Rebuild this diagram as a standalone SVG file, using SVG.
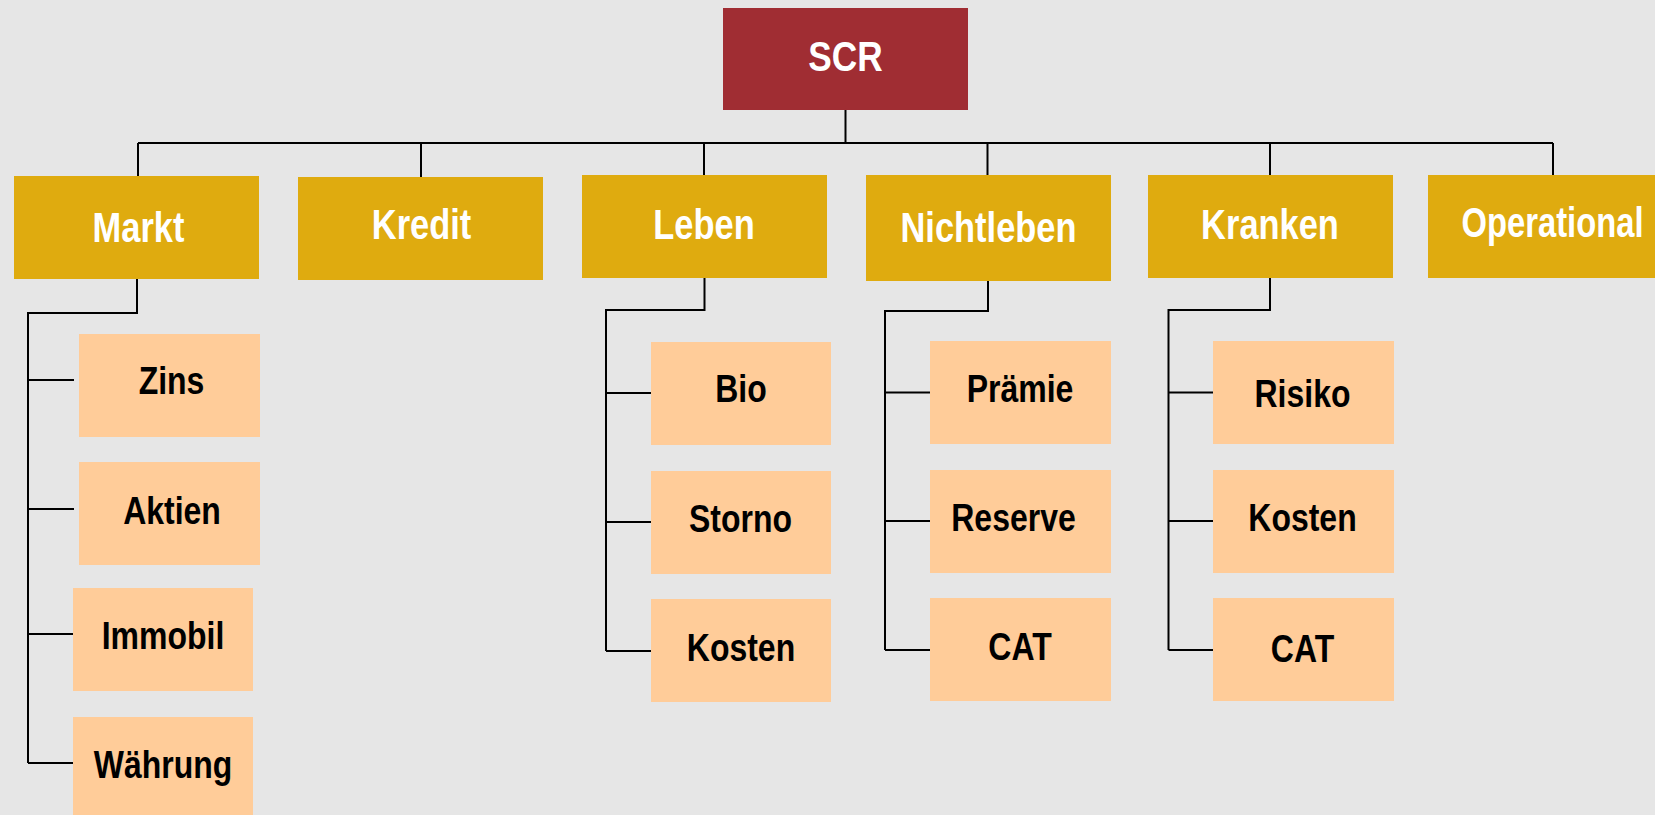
<svg xmlns="http://www.w3.org/2000/svg" width="1655" height="815" viewBox="0 0 1655 815">
<style>
.bg{fill:#E6E6E6}
.root{fill:#A02D33}
.top{fill:#DFAB0F}
.sub{fill:#FFCC99}
.c{fill:none;stroke:#000;stroke-width:2}
text{font-family:"Liberation Sans",Arial,sans-serif;font-weight:bold;text-anchor:middle}
.tw{fill:#fff;font-size:42px}
.tb{fill:#000;font-size:39px}
</style>
<rect class="bg" x="0" y="0" width="1655" height="815"/>
<g id="connectors">
<path class="c" d="M845.5,110 V143 M138,143 H1553 M138,143 V176 M421,143 V177 M704,143 V175 M987.5,143 V175 M1270,143 V175 M1553,143 V175"/>
<path class="c" d="M137,279 V313 H28 V763 M28,380 H74 M28,509 H74 M28,634 H74 M28,763 H74"/>
<path class="c" d="M704.5,278 V310 H606 V651 M606,393 H651 M606,522 H651 M606,651 H651"/>
<path class="c" d="M988,281 V311 H885 V650 M885,392.5 H930 M885,521 H930 M885,650 H930"/>
<path class="c" d="M1270,278 V310 H1168.5 V650 M1168.5,392.5 H1213 M1168.5,521 H1213 M1168.5,650 H1213"/>
</g>
<g id="scr"><rect class="root" x="723" y="8" width="245" height="102"/><text class="tw" transform="translate(845.5,70.5) scale(0.82,1)" style="font-size:43px">SCR</text></g>
<g id="markt"><rect class="top" x="14" y="176" width="245" height="103"/><text class="tw" transform="translate(138.5,241.5) scale(0.82,1)">Markt</text></g>
<g id="kredit"><rect class="top" x="298" y="177" width="245" height="103"/><text class="tw" transform="translate(421.5,239) scale(0.82,1)">Kredit</text></g>
<g id="leben"><rect class="top" x="582" y="175" width="245" height="103"/><text class="tw" transform="translate(704,239) scale(0.82,1)">Leben</text></g>
<g id="nichtleben"><rect class="top" x="866" y="175" width="245" height="106"/><text class="tw" transform="translate(988.5,241.5) scale(0.82,1)">Nichtleben</text></g>
<g id="kranken"><rect class="top" x="1148" y="175" width="245" height="103"/><text class="tw" transform="translate(1270,239) scale(0.82,1)">Kranken</text></g>
<g id="operational"><rect class="top" x="1428" y="175" width="245" height="103"/><text class="tw" transform="translate(1552.5,237) scale(0.78,1)">Operational</text></g>
<g id="zins"><rect class="sub" x="79" y="334" width="181" height="103"/><text class="tb" transform="translate(171.5,394) scale(0.82,1)">Zins</text></g>
<g id="aktien"><rect class="sub" x="79" y="462" width="181" height="103"/><text class="tb" transform="translate(172,524) scale(0.82,1)">Aktien</text></g>
<g id="immobil"><rect class="sub" x="73" y="588" width="180" height="103"/><text class="tb" transform="translate(163,648.5) scale(0.82,1)">Immobil</text></g>
<g id="waehrung"><rect class="sub" x="73" y="717" width="180" height="103"/><text class="tb" transform="translate(163,778) scale(0.82,1)">Währung</text></g>
<g id="bio"><rect class="sub" x="651" y="342" width="180" height="103"/><text class="tb" transform="translate(741,402) scale(0.82,1)">Bio</text></g>
<g id="storno"><rect class="sub" x="651" y="471" width="180" height="103"/><text class="tb" transform="translate(740.5,532) scale(0.82,1)">Storno</text></g>
<g id="kosten-leben"><rect class="sub" x="651" y="599" width="180" height="103"/><text class="tb" transform="translate(741,660.5) scale(0.82,1)">Kosten</text></g>
<g id="praemie"><rect class="sub" x="930" y="341" width="181" height="103"/><text class="tb" transform="translate(1020,402) scale(0.82,1)">Prämie</text></g>
<g id="reserve"><rect class="sub" x="930" y="470" width="181" height="103"/><text class="tb" transform="translate(1013.5,531) scale(0.82,1)">Reserve</text></g>
<g id="cat-nichtleben"><rect class="sub" x="930" y="598" width="181" height="103"/><text class="tb" transform="translate(1020,660) scale(0.82,1)">CAT</text></g>
<g id="risiko"><rect class="sub" x="1213" y="341" width="181" height="103"/><text class="tb" transform="translate(1302.5,406.5) scale(0.82,1)">Risiko</text></g>
<g id="kosten-kranken"><rect class="sub" x="1213" y="470" width="181" height="103"/><text class="tb" transform="translate(1302.5,531) scale(0.82,1)">Kosten</text></g>
<g id="cat-kranken"><rect class="sub" x="1213" y="598" width="181" height="103"/><text class="tb" transform="translate(1302.5,661.5) scale(0.82,1)">CAT</text></g>
</svg>
